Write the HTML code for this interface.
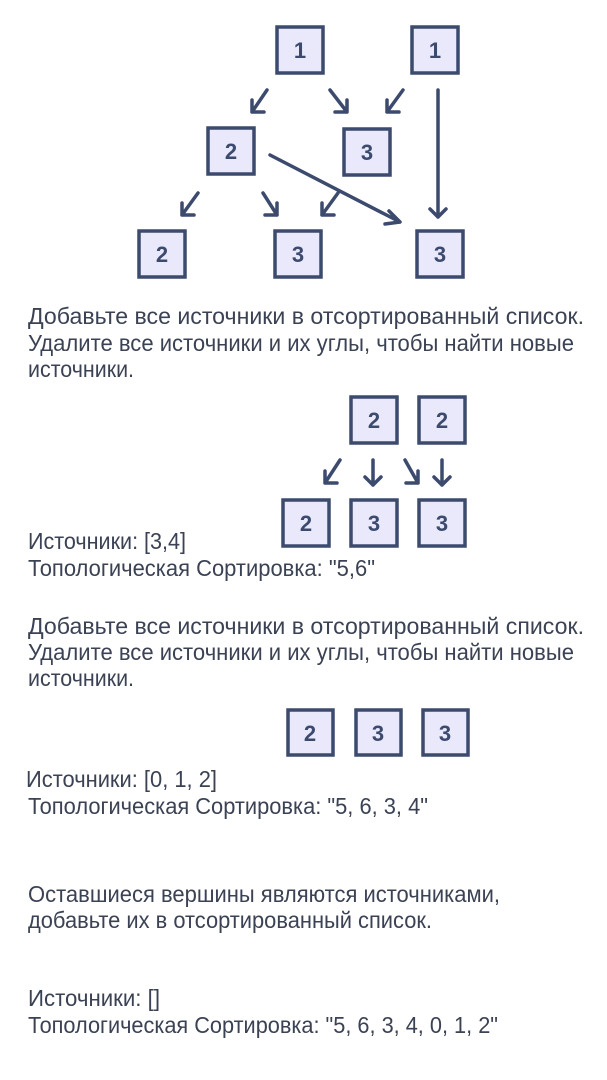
<!DOCTYPE html>
<html><head><meta charset="utf-8"><style>
html,body{margin:0;padding:0;background:#fff}
svg{display:block}
text{font-family:"Liberation Sans",sans-serif}
.t{font-size:23px;fill:#3b4254}
.b{fill:#e9e9fb;stroke:#3c4a6e;stroke-width:3.5}
.n{font-size:22px;font-weight:bold;fill:#3c4a6e;text-anchor:middle}
.a{stroke:#3c4a6e;stroke-width:3.5;fill:none;stroke-linecap:round;stroke-linejoin:round}
</style></head><body>
<svg width="607" height="1080" viewBox="0 0 607 1080">
<g>
<rect class="b" x="277" y="27" width="46" height="46"/><text class="n" x="300" y="58">1</text>
<rect class="b" x="412" y="27" width="46" height="46"/><text class="n" x="435" y="58">1</text>
<rect class="b" x="208" y="128" width="46" height="46"/><text class="n" x="231" y="159">2</text>
<rect class="b" x="344" y="129" width="46" height="46"/><text class="n" x="367" y="160">3</text>
<rect class="b" x="139" y="231" width="46" height="46"/><text class="n" x="162" y="262">2</text>
<rect class="b" x="275" y="231" width="46" height="46"/><text class="n" x="298" y="262">3</text>
<rect class="b" x="417" y="231" width="46" height="46"/><text class="n" x="440" y="262">3</text>
</g>
<g class="a">
<path d="M267,90 L252,112 M252,100 L252,112 L264,112"/>
<path d="M330,90 L347,112 M335,112 L347,112 L347,100"/>
<path d="M403,90 L387,112 M387,100 L387,112 L399,112"/>
<path d="M438,90 L438,217 M430,209 L438,217 L446,209"/>
<path d="M198,193 L182,215 M182,203 L182,215 L194,215"/>
<path d="M263,193 L277,215 M265,215 L277,215 L277,203"/>
<path d="M338,193 L322,215 M322,203 L322,215 L334,215"/>
<path d="M270,155 L400,222 M389,211 L400,222 L385,224"/>
</g>
<text class="t" x="28" y="324" textLength="556" lengthAdjust="spacingAndGlyphs">Добавьте все источники в отсортированный список.</text>
<text class="t" x="28" y="351" textLength="546" lengthAdjust="spacingAndGlyphs">Удалите все источники и их углы, чтобы найти новые</text>
<text class="t" x="28" y="377" textLength="106" lengthAdjust="spacingAndGlyphs">источники.</text>
<g>
<rect class="b" x="351" y="397" width="46" height="46"/><text class="n" x="374" y="428">2</text>
<rect class="b" x="419" y="397" width="46" height="46"/><text class="n" x="442" y="428">2</text>
<rect class="b" x="283" y="500" width="46" height="46"/><text class="n" x="306" y="531">2</text>
<rect class="b" x="351" y="500" width="46" height="46"/><text class="n" x="374" y="531">3</text>
<rect class="b" x="419" y="500" width="46" height="46"/><text class="n" x="442" y="531">3</text>
</g>
<g class="a">
<path d="M340,460 L325,483 M325,471 L325,483 L337,483"/>
<path d="M373,460 L373,485 M365,477 L373,485 L381,477"/>
<path d="M405,460 L418,483 M406,483 L418,483 L418,471"/>
<path d="M442,460 L442,485 M434,477 L442,485 L450,477"/>
</g>
<text class="t" x="28" y="549" textLength="158" lengthAdjust="spacingAndGlyphs">Источники: [3,4]</text>
<text class="t" x="28" y="576" textLength="347" lengthAdjust="spacingAndGlyphs">Топологическая Сортировка: "5,6"</text>
<text class="t" x="28" y="634" textLength="556" lengthAdjust="spacingAndGlyphs">Добавьте все источники в отсортированный список.</text>
<text class="t" x="28" y="660" textLength="546" lengthAdjust="spacingAndGlyphs">Удалите все источники и их углы, чтобы найти новые</text>
<text class="t" x="28" y="686" textLength="106" lengthAdjust="spacingAndGlyphs">источники.</text>
<g>
<rect class="b" x="288" y="710" width="45" height="45"/><text class="n" x="310" y="741">2</text>
<rect class="b" x="356" y="710" width="45" height="45"/><text class="n" x="378" y="741">3</text>
<rect class="b" x="423" y="710" width="45" height="45"/><text class="n" x="445" y="741">3</text>
</g>
<text class="t" x="26" y="787" textLength="191" lengthAdjust="spacingAndGlyphs">Источники: [0, 1, 2]</text>
<text class="t" x="28" y="814" textLength="400" lengthAdjust="spacingAndGlyphs">Топологическая Сортировка: "5, 6, 3, 4"</text>
<text class="t" x="28" y="902" textLength="472" lengthAdjust="spacingAndGlyphs">Оставшиеся вершины являются источниками,</text>
<text class="t" x="28" y="928" textLength="404" lengthAdjust="spacingAndGlyphs">добавьте их в отсортированный список.</text>
<text class="t" x="28" y="1006" textLength="132" lengthAdjust="spacingAndGlyphs">Источники: []</text>
<text class="t" x="28" y="1033" textLength="470" lengthAdjust="spacingAndGlyphs">Топологическая Сортировка: "5, 6, 3, 4, 0, 1, 2"</text>
</svg>
</body></html>
